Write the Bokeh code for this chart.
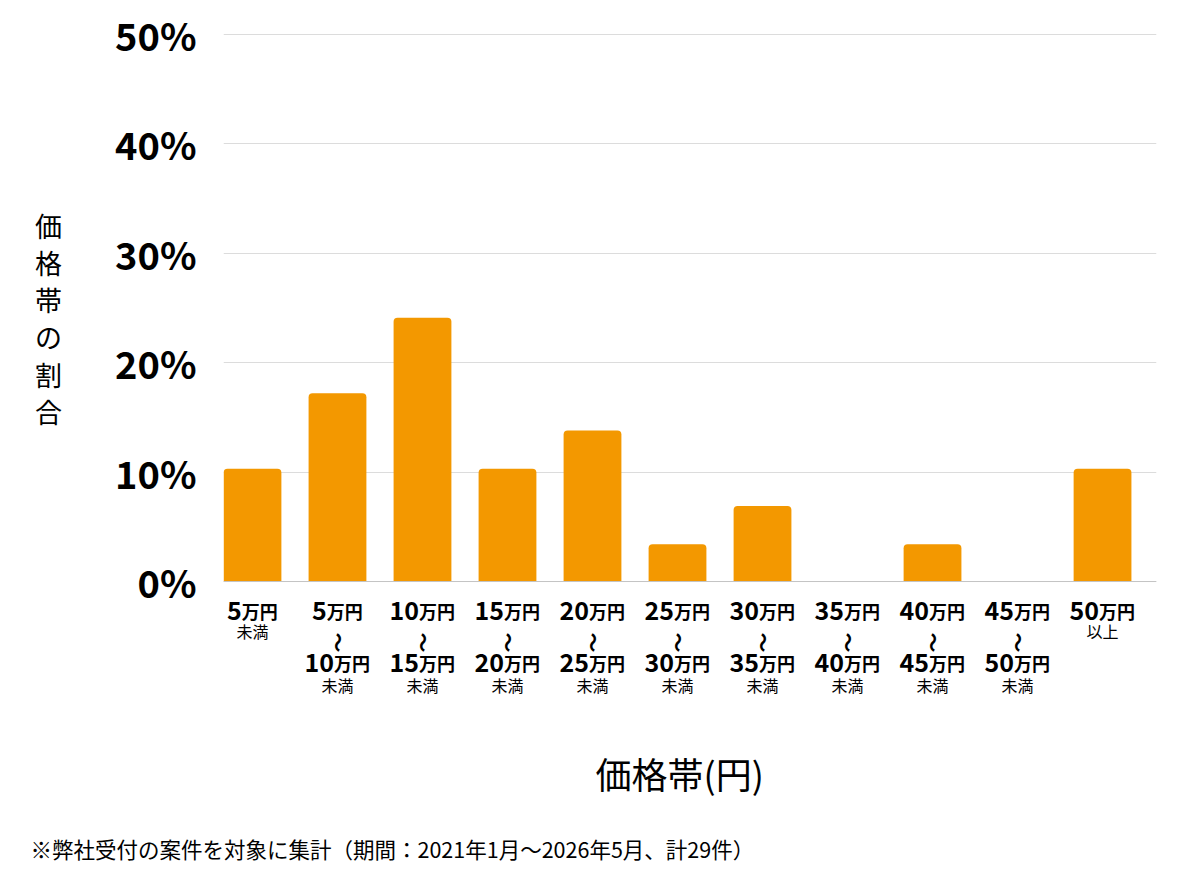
from bokeh.plotting import figure
from bokeh.models import ColumnDataSource, FixedTicker, PrintfTickFormatter, Range1d, Span, Title
from bokeh.core.properties import value
from bokeh.embed import file_html
from bokeh.resources import INLINE

# --- data (29 cases in total) ---
categories = ["5万円未満", "5〜10万円未満", "10〜15万円未満", "15〜20万円未満", "20〜25万円未満",
              "25〜30万円未満", "30〜35万円未満", "35〜40万円未満", "40〜45万円未満",
              "45〜50万円未満", "50万円以上"]
shares = [10.3, 17.2, 24.1, 10.3, 13.8, 3.4, 6.9, 0.0, 3.4, 0.0, 10.3]
lower = ["5", "5", "10", "15", "20", "25", "30", "35", "40", "45", "50"]
upper = ["", "10", "15", "20", "25", "30", "35", "40", "45", "50", ""]
suffix = ["未満"] * 10 + ["以上"]
y_ticks = [0, 10, 20, 30, 40, 50]

FONT = "Noto Sans CJK JP"
ORANGE = "#f39800"

pos = list(range(len(categories)))  # slot index of each price band

# frame runs from the top of the page down to below the category labels;
# the bars sit slightly left in the grid, as in the original
p = figure(frame_width=933, frame_height=710, x_range=Range1d(-0.341, 10.635),
           y_range=Range1d(-11.79, 53.11), output_backend="svg", toolbar_location=None,
           x_axis_location=None, min_border_left=223, min_border_right=28,
           min_border_top=0, min_border_bottom=0)
p.outline_line_color = None

src = ColumnDataSource(data=dict(pos=pos, cat=categories, share=shares))
p.vbar(x="pos", top="share", width=0.68, source=src, fill_color=ORANGE, line_color=None,
       border_radius=(4, 4, 0, 0))

p.xgrid.visible = False
p.ygrid.grid_line_color = "#dcdcdc"
p.add_layout(Span(location=0, dimension="width", line_color="#c4c4c4", line_width=1))

ax = p.yaxis[0]
ax.ticker = FixedTicker(ticks=y_ticks)
ax.formatter = PrintfTickFormatter(format="%d%%")
ax.axis_line_color = None
ax.major_tick_line_color = None
ax.minor_tick_line_color = None
ax.major_tick_out = 0
ax.major_label_text_font = FONT
ax.major_label_text_font_style = "bold"
ax.major_label_text_font_size = "38px"
ax.major_label_text_color = "black"
ax.major_label_standoff = 27
# vertical label, padded so that it sits centred on the 0-50% band
ax.axis_label = "\n".join("価格帯の割合") + "\n\u3000\n\u3000"
ax.axis_label_orientation = "horizontal"
ax.axis_label_text_font = FONT
ax.axis_label_text_font_style = "normal"
ax.axis_label_text_font_size = "27px"
ax.axis_label_text_line_height = 0.95
ax.axis_label_text_color = "black"
ax.axis_label_standoff = 50

# --- category labels drawn as text under each bar ---
DIGIT_W, UNIT_W = 14.5, 36


def split_off(num):
    return (DIGIT_W * len(num) - UNIT_W) / 2


top_src = ColumnDataSource(data=dict(
    pos=pos, num=lower, unit=["万円"] * len(pos),
    off=[split_off(n) for n in lower], y=[0] * len(pos)))
mid = [i for i, u in enumerate(upper) if u]
bot_src = ColumnDataSource(data=dict(
    pos=[pos[i] for i in mid], num=[upper[i] for i in mid],
    unit=["万円"] * len(mid), wave=["〜"] * len(mid),
    off=[split_off(upper[i]) for i in mid], y=[0] * len(mid)))
note_src = ColumnDataSource(data=dict(
    pos=pos, txt=suffix, y=[0] * len(pos),
    dy=[103 if u else 49 for u in upper]))

num_kw = dict(text_font=value(FONT), text_font_style="bold", text_color="black",
              text_baseline="alphabetic")
p.text(x="pos", y="y", text="num", x_offset="off", y_offset=29, source=top_src,
       text_align="right", text_font_size="25px", **num_kw)
p.text(x="pos", y="y", text="unit", x_offset="off", y_offset=29, source=top_src,
       text_align="left", text_font_size="18px", **num_kw)
p.text(x="pos", y="y", text="wave", y_offset=61, source=bot_src, angle=1.5708,
       text_align="center", text_baseline="middle", text_font=value(FONT),
       text_font_style="bold", text_font_size="20px", text_color="black")
p.text(x="pos", y="y", text="num", x_offset="off", y_offset=81, source=bot_src,
       text_align="right", text_font_size="25px", **num_kw)
p.text(x="pos", y="y", text="unit", x_offset="off", y_offset=81, source=bot_src,
       text_align="left", text_font_size="18px", **num_kw)
p.text(x="pos", y="y", text="txt", y_offset="dy", source=note_src, text_align="center",
       text_baseline="middle", text_font=value(FONT), text_font_size="16px",
       text_color="black")

p.add_layout(Title(text="価格帯(円)", align="left", offset=372, standoff=68,
                   vertical_align="bottom", text_font=FONT, text_font_style="normal",
                   text_font_size="36px", text_color="black"), "below")
p.add_layout(Title(text="※弊社受付の案件を対象に集計（期間：2021年1月～2026年5月、計29件）",
                   align="left", offset=-193, standoff=0, vertical_align="top",
                   text_font=FONT, text_font_style="normal", text_font_size="21.5px",
                   text_color="black"), "below")

open("out.html", "w").write(file_html(p, INLINE))
